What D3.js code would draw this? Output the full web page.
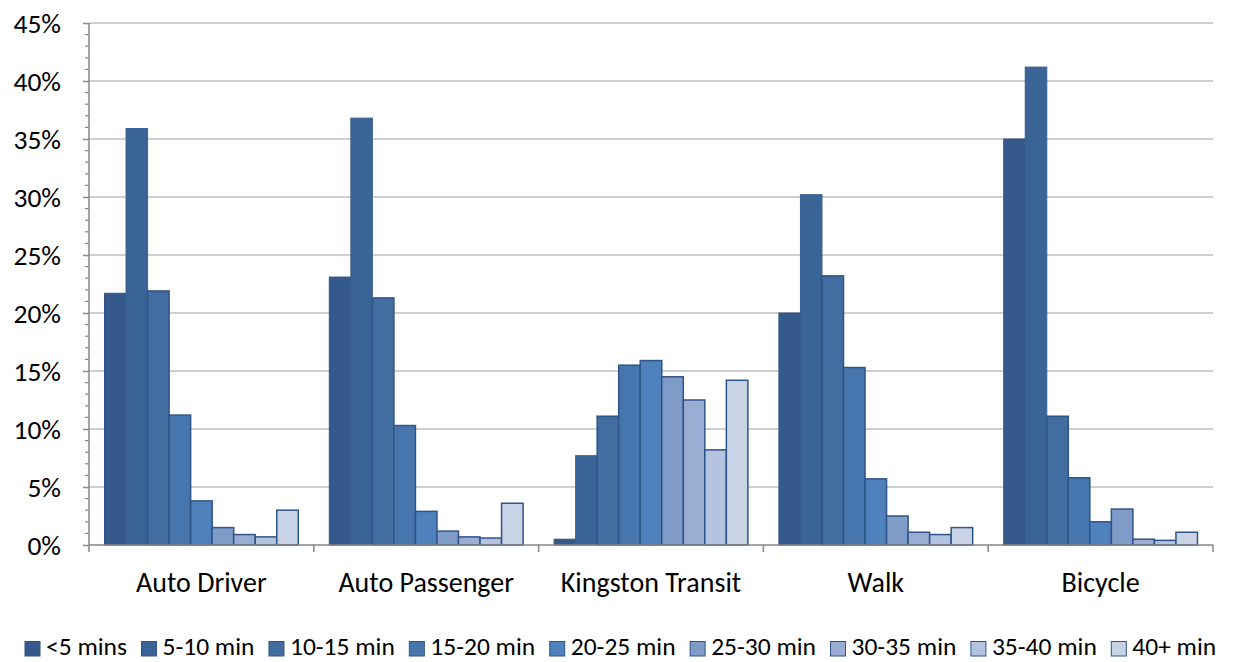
<!DOCTYPE html>
<html><head><meta charset="utf-8">
<script src="https://cdn.jsdelivr.net/npm/d3@7/dist/d3.min.js"></script>
<style>body{margin:0;background:#fff}svg{display:block}text{font-family:Carlito,Lato,"Open Sans",sans-serif;fill:#000}</style>
</head><body><svg id="c" width="1247" height="662"></svg>
<script>
const categories = ["Auto Driver","Auto Passenger","Kingston Transit","Walk","Bicycle"];
const seriesNames = ["<5 mins","5-10 min","10-15 min","15-20 min","20-25 min","25-30 min","30-35 min","35-40 min","40+ min"];
const autoDriver    = [21.7,35.9,21.9,11.2,3.8,1.5,0.9,0.7,3.0];
const autoPassenger = [23.1,36.8,21.3,10.3,2.9,1.2,0.7,0.6,3.6];
const kingstonTransit=[0.5,7.7,11.1,15.5,15.9,14.5,12.5,8.2,14.2];
const walk          = [20.0,30.2,23.2,15.3,5.7,2.5,1.1,0.9,1.5];
const bicycle       = [35.0,41.2,11.1,5.8,2.0,3.1,0.5,0.4,1.1];
const yTicks = [0,5,10,15,20,25,30,35,40,45];
const colors = ["#35598A","#3B6496","#416DA1","#4776AE","#4F81BD","#7F9CC8","#9AAED4","#B4C3E0","#C9D3E6"];

const values = [autoDriver,autoPassenger,kingstonTransit,walk,bicycle];
const svg = d3.select("#c");
const L=89,R=1213,T=23,B=545;
const y = d3.scaleLinear().domain([0,45]).range([B,T]);
const x0 = d3.scaleBand().domain(categories).range([L,R]).paddingInner(0.138).paddingOuter(0.069);
const x1 = d3.scaleBand().domain(seriesNames).range([0,x0.bandwidth()]);

svg.append("g").selectAll("line").data(yTicks.filter(d=>d>0)).join("line")
  .attr("x1",L).attr("x2",R).attr("y1",d=>y(d)).attr("y2",d=>y(d))
  .attr("stroke","#BFBFBF").attr("stroke-width",1.5);

const g = svg.append("g");
categories.forEach((c,ci)=>{
  g.selectAll(null).data(values[ci]).join("rect")
   .attr("x",(d,i)=>x0(c)+x1(seriesNames[i]))
   .attr("y",d=>y(d))
   .attr("width",x1.bandwidth())
   .attr("height",d=>B-y(d))
   .attr("fill",(d,i)=>colors[i])
   .attr("stroke",(d,i)=>i<2?d3.color(colors[i]).darker(0.15):"#2F5487")
   .attr("stroke-width",(d,i)=>i<2?1:1.5);
});

const ya = svg.append("g").attr("transform",`translate(${L},0)`)
  .call(d3.axisLeft(y).tickValues(yTicks).tickFormat(d=>d+"%").tickSize(6).tickPadding(22));
ya.select(".domain").attr("stroke","#868686").attr("stroke-width",1.5).attr("d",`M0,${B}V${T}`);
ya.selectAll(".tick line").attr("stroke","#868686").attr("stroke-width",1.5).attr("x1",-6).attr("x2",0);
ya.selectAll(".tick text").attr("font-size",27.5).attr("font-family","Carlito,Lato,sans-serif").attr("fill","#000").attr("dy","0.36em");
svg.append("g").selectAll("line").data(d3.range(0,46,1).filter(d=>d%5)).join("line")
  .attr("x1",L-4).attr("x2",L).attr("y1",d=>y(d)).attr("y2",d=>y(d)).attr("stroke","#868686").attr("stroke-width",1.2);

const xa = svg.append("g").attr("transform",`translate(0,${B})`);
xa.append("line").attr("x1",L).attr("x2",R).attr("stroke","#868686").attr("stroke-width",1.5);
const bounds = categories.map(c=>x0(c)-x0.step()*x0.paddingInner()/2).concat([R]);
xa.selectAll(".tk").data(bounds).join("line").attr("x1",d=>d).attr("x2",d=>d).attr("y1",0).attr("y2",7)
  .attr("stroke","#868686").attr("stroke-width",1.5);
xa.selectAll(".lb").data(categories).join("text")
  .attr("x",c=>x0(c)+x0.bandwidth()/2).attr("y",47).attr("text-anchor","middle").attr("font-size",28).text(c=>c);

const lg = svg.append("g").attr("transform","translate(0,655)");
let cx = 25;
seriesNames.forEach((s,i)=>{
  const it = lg.append("g").attr("transform",`translate(${cx},0)`);
  it.append("rect").attr("x",0).attr("y",-13.5).attr("width",15).attr("height",14.5)
    .attr("fill",colors[i]).attr("stroke","#2F5487").attr("stroke-width",1);
  const t = it.append("text").attr("x",21).attr("y",0).attr("font-size",25.5).text(s);
  cx += 21 + t.node().getComputedTextLength() + 14.5;
});
</script></body></html>
